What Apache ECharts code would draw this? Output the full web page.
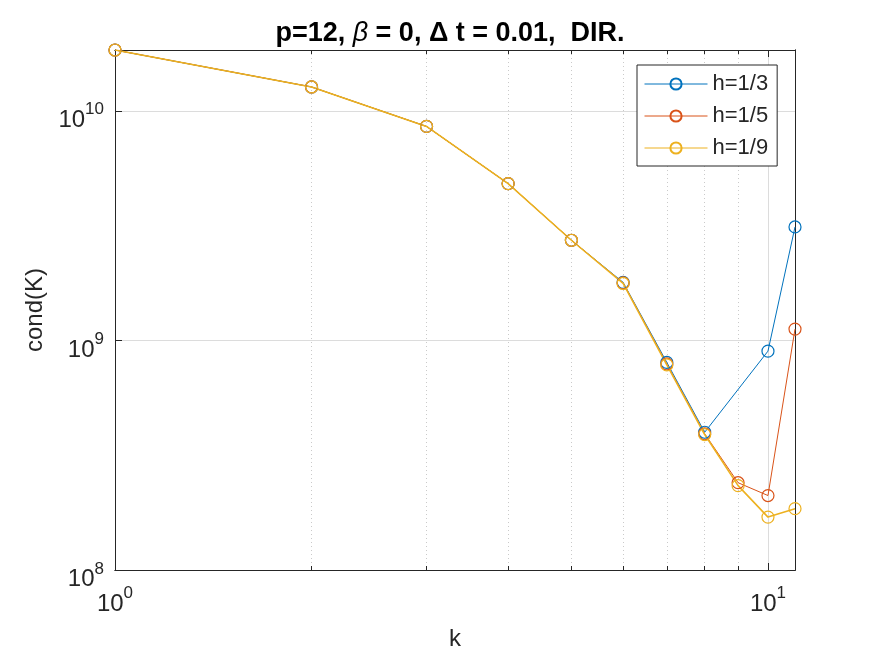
<!DOCTYPE html>
<html>
<head>
<meta charset="utf-8">
<title>cond(K)</title>
<script src="https://cdn.jsdelivr.net/npm/echarts@6.0.0/dist/echarts.min.js"></script>
<style>
  html, body { margin: 0; padding: 0; background: #fff; }
  #chart { width: 875px; height: 656px; }
</style>
</head>
<body>
<div id="chart"></div>
<script>
// k values (x axis)
var kValues = [1, 2, 3, 4, 5, 6, 7, 8, 9, 10, 11];

// cond(K) (h=1/3 has no point at k=9)
var condH3 = [1.84e10, 1.27e10, 8.55e9, 4.82e9, 2.73e9, 1.79e9, 8.02e8, 3.98e8, null, 8.98e8, 3.12e9];
var condH5 = [1.84e10, 1.27e10, 8.55e9, 4.82e9, 2.73e9, 1.78e9, 7.90e8, 3.92e8, 2.40e8, 2.11e8, 1.12e9];
var condH9 = [1.84e10, 1.27e10, 8.55e9, 4.82e9, 2.73e9, 1.77e9, 7.82e8, 3.89e8, 2.33e8, 1.70e8, 1.85e8];

var seriesNames = ['h=1/3', 'h=1/5', 'h=1/9'];
var seriesColors = ['#0072BD', '#D95319', '#EDB120'];

// ticks
var xMajor = [1, 10];
var xMinor = [2, 3, 4, 5, 6, 7, 8, 9];
var yMajor = [1e8, 1e9, 1e10];
var yMinor = [2e8, 3e8, 4e8, 5e8, 6e8, 7e8, 8e8, 9e8, 2e9, 3e9, 4e9, 5e9, 6e9, 7e9, 8e9, 9e9];

var FONT = '"Liberation Sans", Arial, Helvetica, sans-serif';
var AXIS_COLOR = '#262626';

function pairs(ys) {
    return kValues.map(function (k, i) { return [k, ys[i]]; });
}

function powLabel(v) {
    return '{a|10}{b|' + Math.round(Math.log10(v)) + '}';
}

var labelRich = {
    a: { fontSize: 24, lineHeight: 31, verticalAlign: 'bottom', color: AXIS_COLOR, fontFamily: FONT },
    b: { fontSize: 17, lineHeight: 16, verticalAlign: 'top', color: AXIS_COLOR, fontFamily: FONT }
};

function axisSet(dim, major, minor, extra) {
    var lo = dim === 'x' ? 'bottom' : 'left';
    var hi = dim === 'x' ? 'top' : 'right';
    var base = {
        type: 'log',
        logBase: 10,
        min: dim === 'x' ? 1 : 1e8,
        max: dim === 'x' ? 11 : 'dataMax'
    };
    function ax(pos, ticks, len, main) {
        return Object.assign({}, base, {
            position: pos,
            axisLine: { show: true, onZero: false, lineStyle: { color: AXIS_COLOR, width: 1 } },
            axisTick: { show: true, inside: true, length: len, customValues: ticks,
                        lineStyle: { color: AXIS_COLOR, width: 1 } },
            axisLabel: main ? { show: true, customValues: ticks, formatter: powLabel, rich: labelRich,
                                margin: dim === 'x' ? 15 : 11,
                                padding: dim === 'x' ? 0 : [12, 0, 0, 0] }
                            : { show: false },
            splitLine: pos === lo ? (main
                ? { show: true, lineStyle: { color: '#dcdcdc', width: 1 } }
                : { show: true, lineStyle: { color: '#cacaca', width: 1, type: [1, 3] } })
                : { show: false },
            axisPointer: { show: false }
        }, main ? extra : {});
    }
    return [
        ax(lo, major, 7, true),
        ax(hi, major, 7, false),
        ax(lo, minor, 4, false),
        ax(hi, minor, 4, false)
    ];
}

var chart = echarts.init(document.getElementById('chart'), null, { renderer: 'canvas' });

// last series drawn on top, a bit wider so it covers the overlapping ones
var lineWidths = [1, 1, 1.6];

var series = [condH3, condH5, condH9].map(function (ys, i) {
    return {
        name: seriesNames[i],
        type: 'line',
        xAxisIndex: 0,
        yAxisIndex: 0,
        data: pairs(ys),
        connectNulls: true,
        symbol: 'circle',
        symbolSize: 12,
        showSymbol: true,
        lineStyle: { color: seriesColors[i], width: lineWidths[i] },
        itemStyle: { color: 'rgba(255,255,255,0)', borderColor: seriesColors[i], borderWidth: 1.2 },
        emphasis: { disabled: true },
        animation: false
    };
});

chart.setOption({
    animation: false,
    textStyle: { fontFamily: FONT },
    title: {
        text: 'p=12, {i|\u03b2} = 0, \u0394 t = 0.01,  DIR.',
        left: 445,
        top: 15,
        textAlign: 'center',
        textStyle: {
            fontFamily: FONT, fontSize: 27, fontWeight: 'bold', color: '#000',
            rich: { i: { fontFamily: FONT, fontSize: 27, fontStyle: 'italic', fontWeight: 'normal', color: '#000' } }
        }
    },
    legend: {
        orient: 'vertical',
        left: 637,
        top: 65,
        padding: [8, 9, 7, 7],
        itemWidth: 63,
        itemHeight: 14,
        itemGap: 10,
        backgroundColor: '#fff',
        borderColor: AXIS_COLOR,
        borderWidth: 1,
        borderRadius: 0,
        lineStyle: { width: 1 },
        textStyle: { fontFamily: FONT, fontSize: 22, lineHeight: 20, color: AXIS_COLOR },
        data: seriesNames
    },
    grid: { left: 115, right: 80, top: 50, bottom: 86, containLabel: false },
    xAxis: axisSet('x', xMajor, xMinor, {
        name: 'k', nameLocation: 'middle', nameGap: 57,
        nameTextStyle: { fontFamily: FONT, fontSize: 24, color: AXIS_COLOR }
    }),
    yAxis: axisSet('y', yMajor, yMinor, {
        name: 'cond(K)', nameLocation: 'middle', nameGap: 66, nameRotate: 90,
        nameTextStyle: { fontFamily: FONT, fontSize: 24, color: AXIS_COLOR }
    }),
    series: series
});
</script>
</body>
</html>
